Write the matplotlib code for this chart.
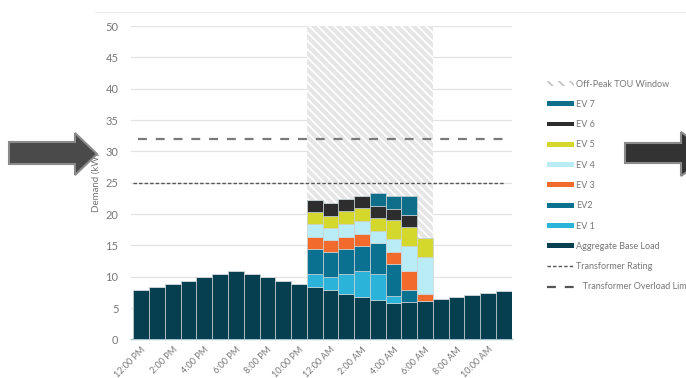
import numpy as np
import matplotlib
matplotlib.use('Agg')
import matplotlib.pyplot as plt
from matplotlib.patches import Patch, Polygon
from matplotlib.lines import Line2D

# Hourly demand, 12:00 PM through 11:00 AM (kW)
hours = ['12:00 PM', '1:00 PM', '2:00 PM', '3:00 PM', '4:00 PM', '5:00 PM',
         '6:00 PM', '7:00 PM', '8:00 PM', '9:00 PM', '10:00 PM', '11:00 PM',
         '12:00 AM', '1:00 AM', '2:00 AM', '3:00 AM', '4:00 AM', '5:00 AM',
         '6:00 AM', '7:00 AM', '8:00 AM', '9:00 AM', '10:00 AM', '11:00 AM']
base_load = [7.9, 8.4, 8.9, 9.4, 9.9, 10.4, 10.9, 10.4, 9.9, 9.4, 8.9, 8.4,
             7.9, 7.3, 6.8, 6.3, 5.8, 5.9, 6.2, 6.5, 6.8, 7.1, 7.4, 7.7]
ev1 = [0] * 11 + [2.1, 2.0, 3.2, 4.2, 4.1, 1.2, 0, 0] + [0] * 5
ev2 = [0] * 11 + [3.9, 4.0, 3.9, 3.9, 5.0, 5.0, 2.0, 0] + [0] * 5
ev3 = [0] * 11 + [2.0, 2.0, 2.0, 2.0, 0, 2.0, 3.0, 1.0] + [0] * 5
ev4 = [0] * 11 + [2.0, 1.9, 2.0, 2.0, 1.9, 2.0, 4.0, 6.0] + [0] * 5
ev5 = [0] * 11 + [1.9, 1.9, 2.1, 2.1, 2.1, 3.0, 3.1, 3.0] + [0] * 5
ev6 = [0] * 11 + [1.9, 2.0, 1.9, 1.9, 1.9, 1.8, 1.9, 0] + [0] * 5
ev7 = [0] * 11 + [0, 0, 0, 0, 2.1, 2.1, 3.0, 0] + [0] * 5

transformer_rating = 25
overload_limit = 32
# first and last hour (index) of the off-peak TOU window
tou_start, tou_end = 11, 18

series = [('Aggregate Base Load', base_load, '#053f50'),
          ('EV 1', ev1, '#2cb3da'),
          ('EV2', ev2, '#0b7190'),
          ('EV 3', ev3, '#f26b2c'),
          ('EV 4', ev4, '#b9ecf4'),
          ('EV 5', ev5, '#d4d82c'),
          ('EV 6', ev6, '#2d2d2d'),
          ('EV 7', ev7, '#0f6e89')]


def draw_arrow(fig, x0, x1, xh, yb0, yb1, yh0, yh1, face, edge):
    # arrow shape given in pixels, converted to figure fractions
    W, H = 686.0, 378.0
    pts = [(x0, yb0), (xh, yb0), (xh, yh0), (x1, (yh0 + yh1) / 2),
           (xh, yh1), (xh, yb1), (x0, yb1)]
    pts = [(px / W, 1 - py / H) for px, py in pts]
    fig.add_artist(Polygon(pts, closed=True, transform=fig.transFigure,
                           facecolor=face, edgecolor=edge, lw=1.5, zorder=10))


def draw_plot():
    plt.rcParams['font.family'] = ['Lato', 'DejaVu Sans']
    plt.rcParams['hatch.linewidth'] = 1.3

    fig = plt.figure(figsize=(6.86, 3.78), dpi=100)
    ax = fig.add_axes([0.191, 0.102, 0.555, 0.829])

    x = np.arange(len(hours))

    # off-peak window shading
    ax.axvspan(tou_start - 0.5, tou_end + 0.5, ymin=0, ymax=1,
               facecolor='#e6e6e6', edgecolor='white', hatch='\\\\\\\\',
               lw=0, zorder=1)

    # stacked bars
    bottom = np.zeros(len(hours))
    for name, vals, color in series:
        vals = np.array(vals, dtype=float)
        ax.bar(x, vals, width=1.0, bottom=bottom, color=color,
               edgecolor='#c9d3d6', linewidth=0.5, zorder=3)
        bottom += vals

    # transformer limits
    ax.hlines(transformer_rating, -0.5, 23.0, colors='#555555',
              linestyles=(0, (2.5, 1.5)), lw=1.0, zorder=4)
    ax.hlines(overload_limit, -0.2, 23.2, colors='#7a7a7a',
              linestyles=(0, (4, 4)), lw=1.6, zorder=4)

    ax.set_xlim(-0.65, 23.5)
    ax.set_ylim(0, 50)
    ax.set_yticks(np.arange(0, 51, 5))
    ax.yaxis.grid(True, color='#e3e3e3', lw=0.9, zorder=0)
    ax.set_axisbelow(True)
    ax.set_xticks(x[::2])
    ax.set_xticklabels(hours[::2], rotation=45, ha='right',
                       rotation_mode='anchor', fontsize=6.5, color='#777777')
    ax.tick_params(axis='both', length=0)
    ax.tick_params(axis='y', labelsize=8, labelcolor='#777777', pad=9)
    ax.tick_params(axis='x', pad=4)
    for side in ['top', 'right', 'left']:
        ax.spines[side].set_visible(False)
    ax.spines['bottom'].set_color('#a8c3cb')
    ax.spines['bottom'].set_linewidth(1.0)

    ax.set_ylabel('Demand (kW)', fontsize=7, color='#777777')
    ax.yaxis.set_label_coords(-0.08, 0.5)

    # legend
    handles = [Patch(facecolor='white', edgecolor='#c4c4c4', hatch='\\\\\\',
                     lw=0, label='Off-Peak TOU Window')]
    for name, vals, color in reversed(series[1:]):
        handles.append(Patch(facecolor=color, label=name))
    handles.append(Patch(facecolor=series[0][2], label=series[0][0]))
    handles.append(Line2D([], [], color='#555555', lw=1.0,
                          linestyle=(0, (2.5, 1.5)), label='Transformer Rating'))
    handles.append(Line2D([], [], color='#555555', lw=1.6,
                          linestyle=(0, (4, 4)),
                          label='   Transformer Overload Limit'))
    fig.legend(handles=handles, loc='upper left',
               bbox_to_anchor=(543 / 686, 1 - 76 / 378), frameon=False,
               fontsize=6.5, labelcolor='#777777', handlelength=3.0,
               handleheight=0.45, handletextpad=0.3, labelspacing=1.25,
               borderaxespad=0)

    # header rule across the top
    fig.add_artist(Line2D([95 / 686, 1], [1 - 12 / 378, 1 - 12 / 378],
                          transform=fig.transFigure, color='#ececec', lw=0.8))

    # side arrows
    draw_arrow(fig, 9, 97, 75, 142, 164, 133, 175, '#4a4a4a', '#8a8a8a')
    draw_arrow(fig, 625, 712, 681, 143, 163, 132, 176, '#333333', '#8a8a8a')

    plt.savefig('out.png', dpi=100)
    return ax


draw_plot()
